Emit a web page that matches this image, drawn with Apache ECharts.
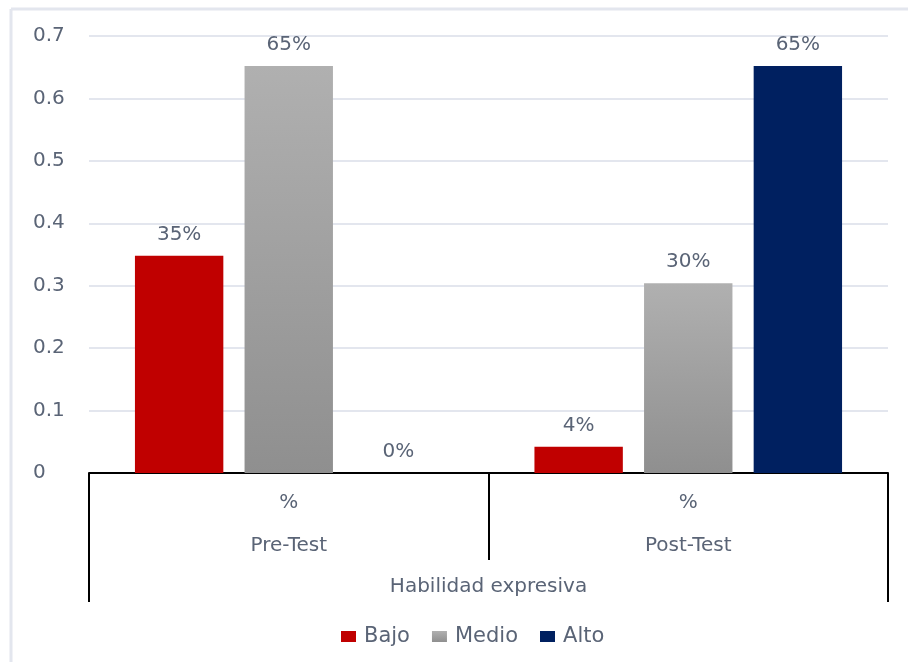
<!DOCTYPE html>
<html>
<head>
<meta charset="utf-8">
<script src="https://cdn.jsdelivr.net/npm/echarts@6/dist/echarts.min.js"></script>
<style>html,body{margin:0;padding:0;background:#fff}#c{width:908px;height:662px}</style>
</head>
<body>
<div id="c"></div>
<script>
var categories = ['Pre-Test', 'Post-Test'];
var subLabel = '%';
var groupLabel = 'Habilidad expresiva';
var bajo = [0.348, 0.042];
var medio = [0.652, 0.304];
var alto = [0, 0.652];

var txt = '#5a6476';
var font = '"DejaVu Sans", sans-serif';
var fs = 20;
var chart = echarts.init(document.getElementById('c'));
function pct(p) { return Math.round(p.value * 100) + '%'; }
var lbl = { show: true, position: 'top', distance: 11, color: txt, fontSize: fs, fontFamily: font, formatter: pct };
chart.setOption({
  animation: false,
  textStyle: { fontFamily: font },
  graphic: [
    { type: 'line', shape: { x1: 11, y1: 9, x2: 908, y2: 9 }, style: { stroke: '#e3e6ee', lineWidth: 3 } },
    { type: 'line', shape: { x1: 11, y1: 9, x2: 11, y2: 662 }, style: { stroke: '#e3e6ee', lineWidth: 3 } }
  ],
  grid: { left: 89, right: 20, top: 36, bottom: 189 },
  legend: {
    top: 621, left: 336, itemWidth: 15, itemHeight: 11, itemGap: 22,
    icon: 'rect',
    textStyle: { color: txt, fontSize: 21, fontFamily: font, padding: [0, 0, 0, 3] },
    data: ['Bajo', 'Medio', 'Alto']
  },
  xAxis: [
    {
      type: 'category', data: categories, position: 'bottom',
      axisLine: { lineStyle: { color: '#000', width: 2 } },
      axisTick: { show: true, length: 87, lineStyle: { color: '#000', width: 2 } },
      axisLabel: {
        margin: 8, color: txt, fontSize: fs, fontFamily: font, lineHeight: 43,
        formatter: function (v) { return subLabel + '\n' + v; }
      }
    },
    {
      type: 'category', data: [groupLabel], position: 'bottom',
      axisLine: { show: false },
      axisTick: { show: true, length: 129, lineStyle: { color: '#000', width: 2 } },
      axisLabel: { margin: 102, lineHeight: 24, color: txt, fontSize: fs, fontFamily: font }
    }
  ],
  yAxis: {
    type: 'value', min: 0, max: 0.7, interval: 0.1,
    axisLine: { show: false }, axisTick: { show: false },
    splitLine: { lineStyle: { color: '#e3e6ee', width: 2 } },
    axisLabel: { color: txt, fontSize: fs, fontFamily: font, align: 'left', margin: 56 }
  },
  series: [
    { name: 'Bajo', type: 'bar', xAxisIndex: 0, data: bajo, barGap: '24%', barCategoryGap: '23%',
      itemStyle: { color: '#c00000' }, label: lbl },
    { name: 'Medio', type: 'bar', xAxisIndex: 0, data: medio,
      itemStyle: { color: new echarts.graphic.LinearGradient(0, 0, 0, 1, [
        { offset: 0, color: '#b0b0b0' }, { offset: 1, color: '#8f8f8f' }]) },
      label: lbl },
    { name: 'Alto', type: 'bar', xAxisIndex: 0, data: alto,
      itemStyle: { color: '#002060' }, label: lbl }
  ]
});
</script>
</body>
</html>
